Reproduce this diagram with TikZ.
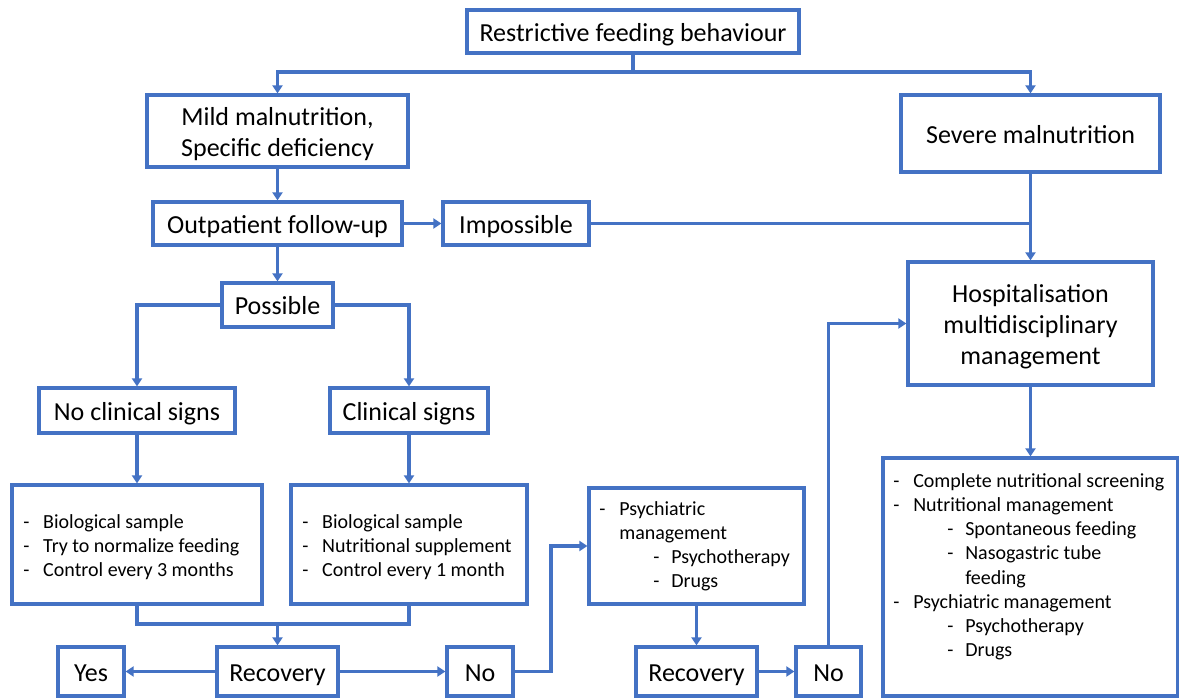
\documentclass[tikz,border=0pt]{standalone}
\usepackage{fontspec}
\setmainfont{Carlito}
\usetikzlibrary{arrows.meta}
\definecolor{ob}{HTML}{4472C4}
\newcommand\bigf{\fontsize{19.5}{23.4}\selectfont}
\newcommand\smf{\fontsize{15}{18.2}\selectfont}
\newcommand\bt[1]{\raisebox{-2.6pt}[\height][\depth]{\begin{tabular}{@{}c@{}}#1\end{tabular}}}
\newcommand\dli[1]{\makebox[15pt][l]{-}#1}
\newcommand\dlii[1]{\hspace*{40.5pt}\makebox[13.5pt][l]{-}#1}
\newcommand\dliic[1]{\hspace*{15pt}#1}
\newcommand\dliiic[1]{\hspace*{54pt}#1}
\tikzset{
  bx/.style 2 args={draw=ob, line width=2.4pt, minimum width=#1*0.75pt, minimum height=#2*0.75pt, inner sep=0pt, font=\bigf},
  ln/.style={draw=ob, line width=2.4pt},
  arr/.style={ln, -{Triangle[length=6pt,width=7.5pt]}},
  lst/.style={anchor=base west, inner sep=0pt, font=\smf},
}
\begin{document}
\begin{tikzpicture}[x=0.75pt,y=-0.75pt]
\clip (0,0) rectangle (1179,697);
\fill[white] (0,0) rectangle (1179,697);
% boxes
\node[bx={332}{43}] (rfb) at (633,31.5) {\bt{Restrictive feeding behaviour}};
\node[bx={261}{72}] (mild) at (277.5,131) {\bt{Mild malnutrition,\\Specific deficiency}};
\node[bx={259}{77}] (severe) at (1030.5,133.5) {\bt{Severe malnutrition}};
\node[bx={249}{43}] (outp) at (277.5,223.5) {\bt{Outpatient follow-up}};
\node[bx={146}{43}] (imp) at (516,223.5) {\bt{Impossible}};
\node[bx={245}{123}] (hosp) at (1030.5,323.5) {\bt{Hospitalisation\\multidisciplinary\\management}};
\node[bx={111}{44}] (poss) at (277.5,305) {\bt{Possible}};
\node[bx={196}{45}] (noclin) at (137,410.5) {\bt{No clinical signs}};
\node[bx={158}{45}] (clin) at (409,410.5) {\bt{Clinical signs}};
\node[bx={250}{119}] (b1) at (137,544.5) {};
\node[bx={236}{119}] (b2) at (409,544.5) {};
\node[bx={66}{49}] (yes) at (91,671.5) {\bt{Yes}};
\node[bx={121}{49}] (rec1) at (277.5,671.5) {\bt{Recovery}};
\node[bx={66}{49}] (no1) at (480,671.5) {\bt{No}};
\node[bx={215}{116}] (psych) at (696.5,546) {};
\node[bx={121}{49}] (rec2) at (696.5,671.5) {\bt{Recovery}};
\node[bx={65}{49}] (no2) at (828.5,671.5) {\bt{No}};
\node[bx={295}{238}] (big) at (1030.5,577) {};
% list texts
\node[lst] (b1t) at (23,528) {\begin{tabular}[t]{@{}l@{}}\dli{Biological sample}\\\dli{Try to normalize feeding}\\\dli{Control every 3 months}\end{tabular}};
\node[lst] (b2t) at (302,528) {\begin{tabular}[t]{@{}l@{}}\dli{Biological sample}\\\dli{Nutritional supplement}\\\dli{Control every 1 month}\end{tabular}};
\node[lst] (pst) at (599,515) {\begin{tabular}[t]{@{}l@{}}\dli{Psychiatric}\\\dliic{management}\\\dlii{Psychotherapy}\\\dlii{Drugs}\end{tabular}};
\node[lst] (bigt) at (893,487) {\begin{tabular}[t]{@{}l@{}}\dli{Complete nutritional screening}\\\dli{Nutritional management}\\\dlii{Spontaneous feeding}\\\dlii{Nasogastric tube}\\\dliiic{feeding}\\\dli{Psychiatric management}\\\dlii{Psychotherapy}\\\dlii{Drugs}\end{tabular}};
% connectors
\coordinate (j1) at (633,72);
\draw[ln] (rfb.south) -- (j1);
\draw[arr] (j1) -| (mild.north);
\draw[arr] (j1) -| (severe.north);
\draw[arr] (mild.south) -- (outp.north);
\draw[arr] (outp.east) -- (imp.west);
\draw[ln] (imp.east) -- (imp.east -| hosp.north);
\draw[arr] (severe.south) -- (hosp.north);
\draw[arr] (outp.south) -- (poss.north);
\draw[arr] (poss.west) -| (noclin.north);
\draw[arr] (poss.east) -| (clin.north);
\draw[arr] (noclin.south) -- (b1.north);
\draw[arr] (clin.south) -- (b2.north);
\coordinate (m) at (277.5,624);
\draw[ln] (b1.south) |- (m) -| (b2.south);
\draw[arr] (m) -- (rec1.north);
\draw[arr] (rec1.west) -- (yes.east);
\draw[arr] (rec1.east) -- (no1.west);
\coordinate (k) at (551,546);
\draw[arr] (no1.east) -| (k) -- (psych.west);
\draw[arr] (psych.south) -- (rec2.north);
\draw[arr] (rec2.east) -- (no2.west);
\draw[arr] (no2.north) |- (hosp.west);
\draw[arr] (hosp.south) -- (big.north);
\end{tikzpicture}
\end{document}
